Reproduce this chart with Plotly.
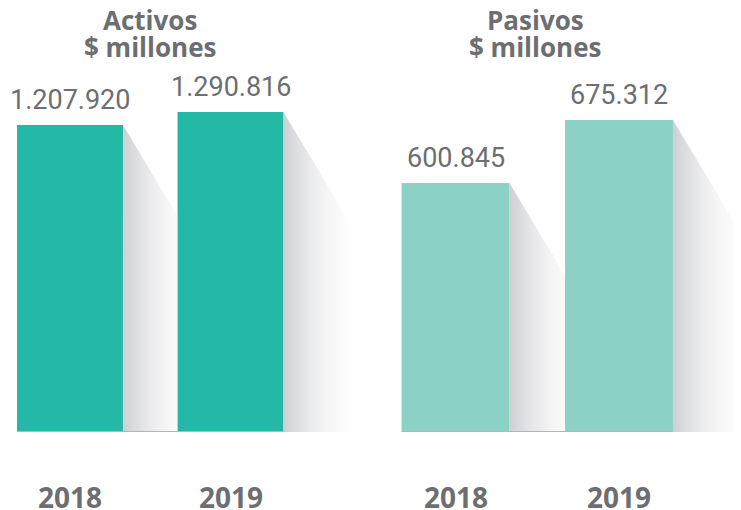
import plotly.graph_objects as go

# data
years = ["2018", "2019"]
activos = [1207920, 1290816]
pasivos = [600845, 675312]
panel_titles = ["Activos", "Pasivos"]
unit_label = "$ millones"

# page body has an 8px margin, so the figure is a bit smaller than the window
OFF = 8
W, H = 741 - OFF, 510 - OFF
BASE_PX = 78          # baseline height from figure bottom
GRAY = "#6d6e71"
FONT = "Roboto"
BOLD_FONT = "Open Sans"

panels = [
    dict(vals=activos, color="#24b9a6", xaxis="x", yaxis="y",
         dom_px=[0, 362], c0=70, sp=160.5, floor=-749700, ceil=1954000),
    dict(vals=pasivos, color="#8cd1c5", xaxis="x2", yaxis="y2",
         dom_px=[362, W], c0=455.5, sp=163.5, floor=306500, ceil=807700),
]
BAR_W = 0.66
SLOPE = 0.6           # shadow run per px of drop

fig = go.Figure()
annotations = []
shapes = []
plot_h = H - BASE_PX

for p in panels:
    xs = [0, 1]
    ypp = (p["ceil"] - p["floor"]) / plot_h   # value units per px
    # shadows (clipped at the next bar, since scatter draws above bars)
    for i, (x, v) in enumerate(zip(xs, p["vals"])):
        h_px = (v - p["floor"]) / ypp
        right = x + BAR_W / 2
        dx = SLOPE * h_px / p["sp"]
        if i + 1 < len(xs) and right + dx > xs[i + 1] - BAR_W / 2:
            lim = xs[i + 1] - BAR_W / 2
            drop_px = (lim - right) * p["sp"] / SLOPE
            yc = v - drop_px * ypp
            sx = [right, lim, lim, right, right]
            sy = [v, yc, p["floor"], p["floor"], v]
        else:
            sx = [right, right + dx, right, right]
            sy = [v, p["floor"], p["floor"], v]
        fig.add_trace(go.Scatter(
            x=sx, y=sy, xaxis=p["xaxis"], yaxis=p["yaxis"], mode="lines",
            line=dict(width=0), fill="toself", hoverinfo="skip", showlegend=False,
            fillgradient=dict(type="horizontal", start=right, stop=right + 0.5,
                              colorscale=[[0, "rgba(198,199,203,0.85)"],
                                          [1, "rgba(255,255,255,0)"]]),
        ))
    fig.add_trace(go.Bar(
        x=xs, y=[v - p["floor"] for v in p["vals"]], base=p["floor"],
        width=BAR_W, marker=dict(color=p["color"], line=dict(width=0)),
        xaxis=p["xaxis"], yaxis=p["yaxis"], showlegend=False, hoverinfo="skip",
    ))
    for x, v, yr in zip(xs, p["vals"], years):
        annotations.append(dict(
            x=x, y=v, xref=p["xaxis"], yref=p["yaxis"], yanchor="bottom",
            yshift=7, showarrow=False,
            text=f"{v:,}".replace(",", "."),
            font=dict(family=FONT, size=27, color=GRAY),
        ))
        annotations.append(dict(
            x=x, y=(510 - 497) / H, xref=p["xaxis"], yref="paper", yanchor="middle",
            showarrow=False, text=f"<b>{yr}</b>", height=24,
            font=dict(family=BOLD_FONT, size=28, color=GRAY),
        ))
    shapes.append(dict(
        type="line", xref=p["xaxis"], yref=p["yaxis"],
        x0=-BAR_W / 2, x1=1 + BAR_W / 2, y0=p["floor"], y1=p["floor"],
        line=dict(color="#b5b5b7", width=2),
    ))

for title, cx in zip(panel_titles, [150, 535]):
    for text, cy in [(title, 20), (unit_label, 46)]:
        annotations.append(dict(
            x=(cx - OFF) / W, y=1 - (cy - OFF) / H, xref="paper", yref="paper",
            xanchor="center", yanchor="middle", showarrow=False, height=25,
            text=f"<b>{text}</b>", font=dict(family=BOLD_FONT, size=26, color=GRAY),
        ))

layout = dict(
    width=W, height=H, margin=dict(l=0, r=0, t=0, b=0),
    paper_bgcolor="white", plot_bgcolor="white",
    annotations=annotations, shapes=shapes, showlegend=False,
)
for i, p in enumerate(panels):
    sfx = "" if i == 0 else "2"
    l_px, r_px = p["dom_px"]
    x0 = -(p["c0"] - OFF - l_px) / p["sp"]
    layout["xaxis" + sfx] = dict(domain=[l_px / W, r_px / W],
                                 range=[x0, x0 + (r_px - l_px) / p["sp"]],
                                 visible=False, fixedrange=True, anchor="y" + sfx)
    layout["yaxis" + sfx] = dict(domain=[BASE_PX / H, 1], range=[p["floor"], p["ceil"]],
                                 visible=False, fixedrange=True, anchor="x" + sfx)

fig.update_layout(**layout)
fig.write_html("out.html")
